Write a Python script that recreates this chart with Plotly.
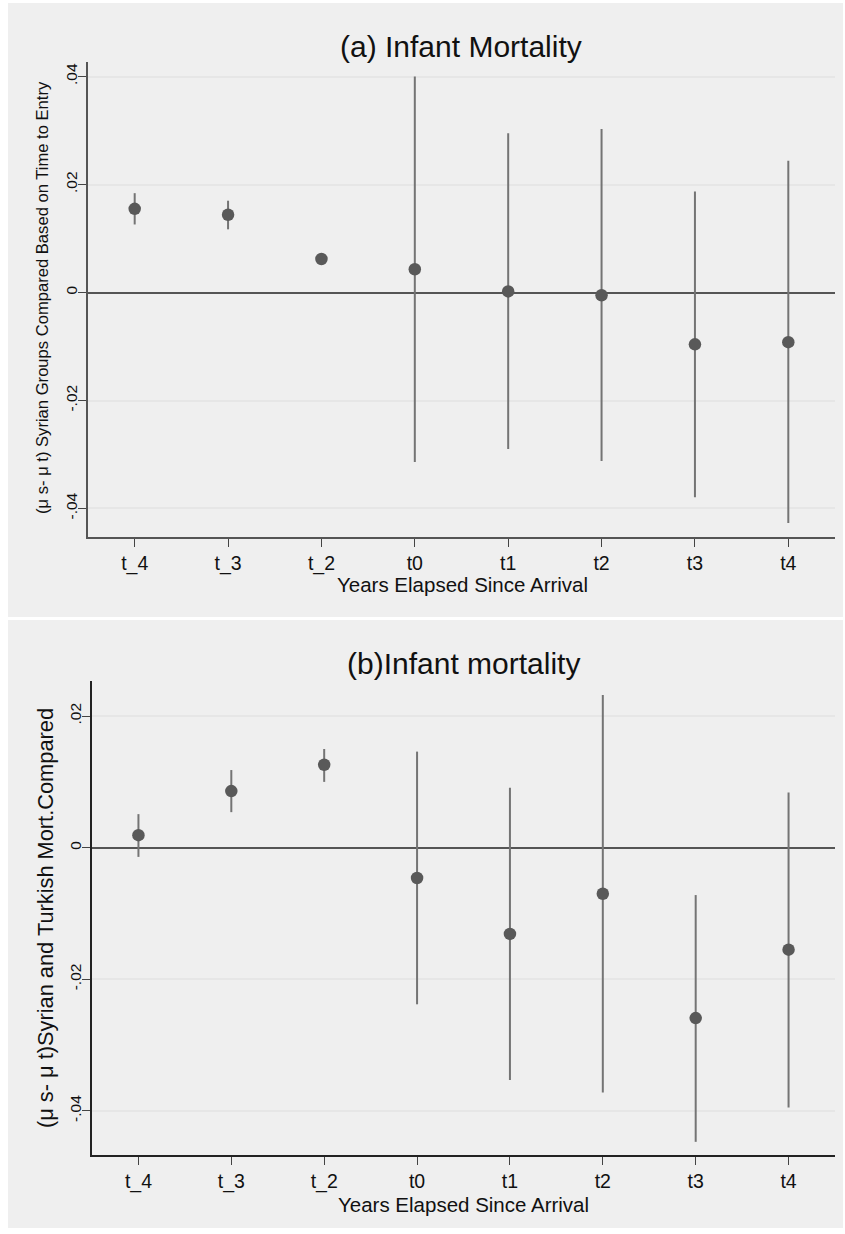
import plotly.graph_objects as go

# ---- data ----
categories = ["t_4", "t_3", "t_2", "t0", "t1", "t2", "t3", "t4"]

a_est = [0.0155, 0.0144, 0.0062, 0.0043, 0.0002, -0.0005, -0.0096, -0.0092]
a_lo = [0.0126, 0.0117, 0.0058, -0.0314, -0.0290, -0.0312, -0.0379, -0.0427]
a_hi = [0.0184, 0.0170, 0.0066, 0.0400, 0.0295, 0.0303, 0.0187, 0.0244]

b_est = [0.0019, 0.0086, 0.0126, -0.0046, -0.0131, -0.0070, -0.0259, -0.0155]
b_lo = [-0.0014, 0.0054, 0.0100, -0.0238, -0.0353, -0.0372, -0.0447, -0.0395]
b_hi = [0.0051, 0.0118, 0.0150, 0.0146, 0.0091, 0.0232, -0.0072, 0.0084]

y_ticks = [-0.04, -0.02, 0, 0.02, 0.04]
y_ticktext = ["-.04", "-.02", "0", ".02", ".04"]

W, H = 845, 1234
BG = "#efefef"
MARK = "#595959"
CI = "#747474"
FONT = "Liberation Sans, Arial, sans-serif"

def px_x(p):
    return p / W

def px_y(p):
    return 1 - p / H

xs = list(range(len(categories)))

fig = go.Figure()

def add_panel(est, lo, hi, xa, ya):
    fig.add_trace(go.Scatter(
        x=xs, y=est, mode="markers", xaxis=xa, yaxis=ya,
        marker=dict(color=MARK, size=12.5, line=dict(width=0)),
        error_y=dict(type="data", symmetric=False,
                     array=[h - e for h, e in zip(hi, est)],
                     arrayminus=[e - l for e, l in zip(est, lo)],
                     color=CI, thickness=2, width=0),
        showlegend=False, hoverinfo="skip"))

add_panel(a_est, a_lo, a_hi, "x", "y")
add_panel(b_est, b_lo, b_hi, "x2", "y2")

def xaxis_cfg(dom, anchor, color):
    return dict(domain=dom, anchor=anchor, range=[-0.5, 7.5],
                tickvals=xs, ticktext=categories, ticks="outside", ticklen=8,
                tickwidth=1.2, tickcolor="#444",
                showline=True, linecolor=color, linewidth=2, mirror=False,
                showgrid=False, zeroline=False,
                tickfont=dict(family=FONT, size=19.5, color="#111"),
                ticklabelstandoff=0)

def yaxis_cfg(dom, anchor, rng, vals, texts, color):
    return dict(domain=dom, anchor=anchor, range=rng,
                tickvals=vals, ticktext=texts, ticks="outside", ticklen=8,
                tickwidth=1.2, tickcolor="#444", tickangle=-90,
                showline=True, linecolor=color, linewidth=2,
                showgrid=True, gridcolor="#e6e6e6", gridwidth=1.5,
                zeroline=True, zerolinecolor="#555555", zerolinewidth=2,
                tickfont=dict(family=FONT, size=15.5, color="#111"),
                ticklabelstandoff=-5)

fig.update_layout(
    width=W, height=H, margin=dict(l=0, r=0, t=0, b=0),
    paper_bgcolor="white", plot_bgcolor="white",
    xaxis=xaxis_cfg([px_x(88), px_x(835)], "y", "#555"),
    yaxis=yaxis_cfg([px_y(537), px_y(62)], "x", [-0.04528, 0.04269],
                    y_ticks, y_ticktext, "#555"),
    xaxis2=xaxis_cfg([px_x(92), px_x(835)], "y2", "#222"),
    yaxis2=yaxis_cfg([px_y(1155), px_y(681)], "x2", [-0.0467, 0.02533],
                     y_ticks[:-1], y_ticktext[:-1], "#222"),
)

# gray Stata-style backgrounds
for y0, y1 in [(3, 617), (620, 1228)]:
    fig.add_shape(type="rect", xref="paper", yref="paper",
                  x0=px_x(8), x1=px_x(843), y0=px_y(y1), y1=px_y(y0),
                  fillcolor=BG, line=dict(width=0), layer="below")

ann = []
ann.append(dict(text="(a) Infant Mortality", x=px_x(461), y=px_y(47),
                font=dict(family=FONT, size=30, color="#111")))
ann.append(dict(text="(b)Infant mortality", x=px_x(463), y=px_y(663),
                font=dict(family=FONT, size=30, color="#111")))
ann.append(dict(text="Years Elapsed Since Arrival", x=px_x(462), y=px_y(585),
                font=dict(family=FONT, size=20.5, color="#111")))
ann.append(dict(text="Years Elapsed Since Arrival", x=px_x(464), y=px_y(1204),
                font=dict(family=FONT, size=20.5, color="#111")))
ann.append(dict(text="(\u03bc s- \u03bc t) Syrian Groups Compared Based on Time to Entry",
                x=px_x(43), y=px_y(298), textangle=-90,
                font=dict(family=FONT, size=16.6, color="#111")))
ann.append(dict(text="(\u03bc s- \u03bc t)Syrian and Turkish Mort.Compared",
                x=px_x(45), y=px_y(918), textangle=-90,
                font=dict(family=FONT, size=21.8, color="#111")))
for a in ann:
    a.update(xref="paper", yref="paper", showarrow=False,
             xanchor="center", yanchor="middle")
fig.update_layout(annotations=ann)

fig.write_html("out.html", config={"displayModeBar": False},
               post_script="document.body.style.margin='0px';")
